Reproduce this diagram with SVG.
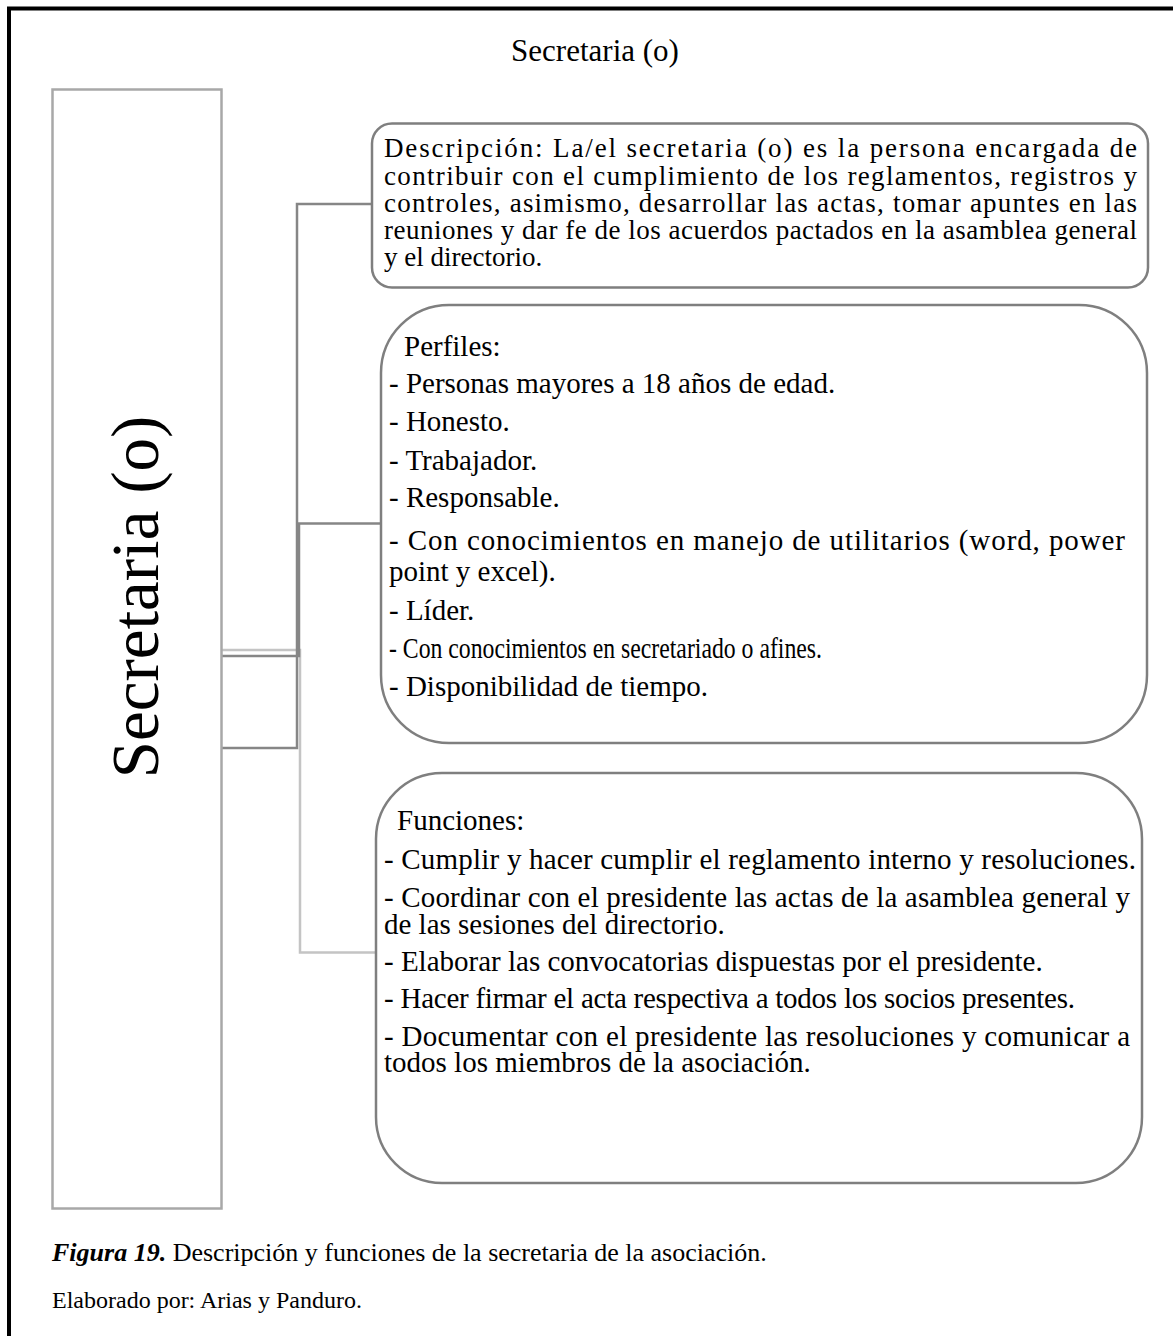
<svg xmlns="http://www.w3.org/2000/svg" width="1173" height="1336" viewBox="0 0 1173 1336">
<style>
text{font-family:"Liberation Serif","Times New Roman",serif;fill:#000}
.d{font-size:27px}
.b{font-size:29px}
.cap{font-size:24px}
.box{fill:#fff;stroke:#7f7f7f;stroke-width:2.5}
.dk{fill:none;stroke:#868686;stroke-width:2.5}
.lt{fill:none;stroke:#c4c4c4;stroke-width:2.5}
</style>
<rect width="1173" height="1336" fill="#fff"/>
<path d="M9,1336 V8.5 H1173" fill="none" stroke="#000" stroke-width="4"/>
<text x="595" y="61" font-size="31" text-anchor="middle">Secretaria (o)</text>
<g id="connectors">
<path class="lt" d="M222,650 H300 V952.5 H376"/>
<path class="dk" d="M222,656 H299 V523.5 H381"/>
<path class="dk" d="M222,748 H297 V204 H372"/>
</g>
<g id="root">
<rect x="52.5" y="89.5" width="169" height="1119" fill="#fff" stroke="#a8a8a8" stroke-width="2.5"/>
<text transform="translate(158,597) rotate(-90)" font-size="67" text-anchor="middle">Secretaria (o)</text>
</g>
<g id="descripcion">
<rect class="box" x="372" y="123.5" width="776" height="164" rx="20"/>
<text class="d" x="384" y="157" textLength="753" lengthAdjust="spacing">Descripción: La/el secretaria (o) es la persona encargada de</text>
<text class="d" x="384" y="184.5" textLength="753" lengthAdjust="spacing">contribuir con el cumplimiento de los reglamentos, registros y</text>
<text class="d" x="384" y="212" textLength="753" lengthAdjust="spacing">controles, asimismo, desarrollar las actas, tomar apuntes en las</text>
<text class="d" x="384" y="239" textLength="753" lengthAdjust="spacing">reuniones y dar fe de los acuerdos pactados en la asamblea general</text>
<text class="d" x="384" y="266">y el directorio.</text>
</g>
<g id="perfiles">
<rect class="box" x="381" y="305" width="766" height="438" rx="68"/>
<text class="b" x="404" y="356">Perfiles:</text>
<text class="b" x="389" y="393">- Personas mayores a 18 años de edad.</text>
<text class="b" x="389" y="431">- Honesto.</text>
<text class="b" x="389" y="470">- Trabajador.</text>
<text class="b" x="389" y="507">- Responsable.</text>
<text class="b" x="389" y="550" textLength="736" lengthAdjust="spacing">- Con conocimientos en manejo de utilitarios (word, power</text>
<text class="b" x="389" y="581">point y excel).</text>
<text class="b" x="389" y="620">- Líder.</text>
<text class="b" x="389" y="658" textLength="433" lengthAdjust="spacingAndGlyphs">- Con conocimientos en secretariado o afines.</text>
<text class="b" x="389" y="696">- Disponibilidad de tiempo.</text>
</g>
<g id="funciones">
<rect class="box" x="376" y="773" width="766" height="410" rx="66"/>
<text class="b" x="397" y="830">Funciones:</text>
<text class="b" x="384" y="869" textLength="752" lengthAdjust="spacing">- Cumplir y hacer cumplir el reglamento interno y resoluciones.</text>
<text class="b" x="384" y="907" textLength="746" lengthAdjust="spacing">- Coordinar con el presidente las actas de la asamblea general y</text>
<text class="b" x="384" y="934">de las sesiones del directorio.</text>
<text class="b" x="384" y="971">- Elaborar las convocatorias dispuestas por el presidente.</text>
<text class="b" x="384" y="1008" textLength="691" lengthAdjust="spacing">- Hacer firmar el acta respectiva a todos los socios presentes.</text>
<text class="b" x="384" y="1046" textLength="746" lengthAdjust="spacing">- Documentar con el presidente las resoluciones y comunicar a</text>
<text class="b" x="384" y="1072">todos los miembros de la asociación.</text>
</g>
<g id="caption">
<text x="52" y="1261" font-size="26"><tspan font-weight="bold" font-style="italic">Figura 19.</tspan> Descripción y funciones de la secretaria de la asociación.</text>
<text class="cap" x="52" y="1308">Elaborado por: Arias y Panduro.</text>
</g>
</svg>
